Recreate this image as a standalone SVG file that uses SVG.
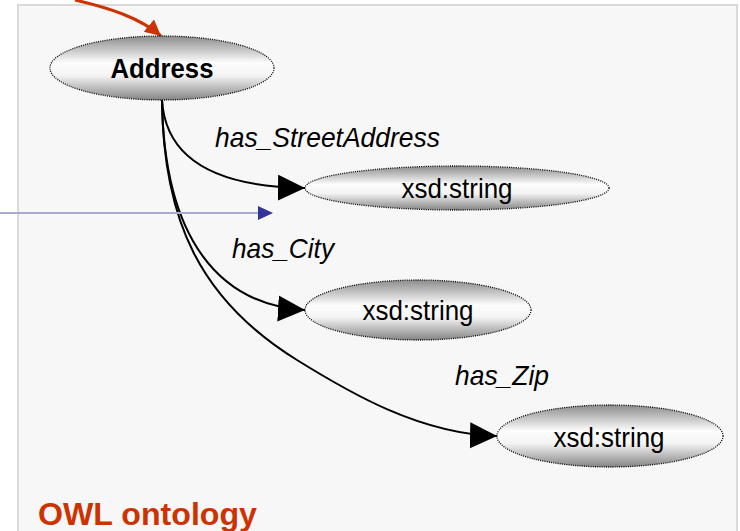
<svg xmlns="http://www.w3.org/2000/svg" width="740" height="531" viewBox="0 0 740 531">
<style>
.node{stroke:#000;stroke-width:1.3;stroke-dasharray:1,1.2;fill:url(#g)}
.lbl{font-family:"Liberation Sans",Arial,sans-serif;font-size:28px;fill:#000}
.it{font-style:italic}
.edge{fill:none;stroke:#000;stroke-width:2}
</style>
<defs>
<linearGradient id="g" x1="0" y1="0" x2="0" y2="1">
<stop offset="0" stop-color="#8c8c8c"/>
<stop offset="0.42" stop-color="#fdfdfd"/>
<stop offset="0.62" stop-color="#f4f4f4"/>
<stop offset="1" stop-color="#858585"/>
</linearGradient>
<marker id="ab" markerUnits="userSpaceOnUse" markerWidth="28" markerHeight="28" refX="27" refY="13" orient="auto" viewBox="0 0 28 28">
<path d="M0,0 L27,13 L0,26 z" fill="#000"/>
</marker>
<marker id="ao" markerUnits="userSpaceOnUse" markerWidth="18" markerHeight="18" refX="16" refY="8" orient="auto" viewBox="0 0 18 18">
<path d="M0,0 L16,8 L0,16 z" fill="#cc3300"/>
</marker>
</defs>
<rect x="0" y="0" width="740" height="531" fill="#fff"/>
<rect x="18" y="5" width="719" height="540" fill="#f7f7f7" stroke="#d9d9d9" stroke-width="2"/>
<g id="connectors">
<path class="edge" d="M162,100 C166,165 225,187 305,188" marker-end="url(#ab)"/>
<path class="edge" d="M162,100 C164,240 220,305 305,310" marker-end="url(#ab)"/>
<path class="edge" d="M162,100 C163,220 200,300 297,360 C350,393 420,434 497,436" marker-end="url(#ab)"/>
<path d="M75,0 C110,8 140,18 161,36" fill="none" stroke="#cc3300" stroke-width="3" marker-end="url(#ao)"/>
<line x1="0" y1="213" x2="260" y2="213" stroke="#a8a8d0" stroke-width="2"/>
<path d="M258,206 L273,213 L258,220 z" fill="#333399"/>
</g>
<g id="address">
<ellipse class="node" cx="162" cy="68" rx="112" ry="32"/>
<text class="lbl" x="162" y="78" text-anchor="middle" font-weight="bold" font-size="26" textLength="103" lengthAdjust="spacingAndGlyphs">Address</text>
</g>
<g id="string1">
<ellipse class="node" cx="457" cy="188" rx="152" ry="22"/>
<text class="lbl" x="457" y="198" text-anchor="middle" textLength="111" lengthAdjust="spacingAndGlyphs">xsd:string</text>
</g>
<g id="string2">
<ellipse class="node" cx="418" cy="310" rx="113" ry="30"/>
<text class="lbl" x="418" y="320" text-anchor="middle" textLength="111" lengthAdjust="spacingAndGlyphs">xsd:string</text>
</g>
<g id="string3">
<ellipse class="node" cx="610" cy="436" rx="113" ry="31"/>
<text class="lbl" x="609" y="447" text-anchor="middle" textLength="111" lengthAdjust="spacingAndGlyphs">xsd:string</text>
</g>
<g id="labels">
<text class="lbl it" x="215" y="147" textLength="225" lengthAdjust="spacingAndGlyphs">has_StreetAddress</text>
<text class="lbl it" x="232" y="258" textLength="102" lengthAdjust="spacingAndGlyphs">has_City</text>
<text class="lbl it" x="455" y="385" textLength="94" lengthAdjust="spacingAndGlyphs">has_Zip</text>
<text x="38" y="525" font-family="'Liberation Sans',Arial,sans-serif" font-weight="bold" font-size="31" fill="#cc3300" textLength="219" lengthAdjust="spacingAndGlyphs">OWL ontology</text>
</g>
</svg>
